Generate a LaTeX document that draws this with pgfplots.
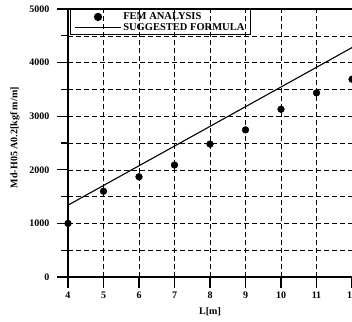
\documentclass[border=0pt]{standalone}
\usepackage{pgfplots}
\pgfplotsset{compat=1.18}
\usepackage{fontspec}
\setmainfont{Liberation Serif}
\pgfplotsset{
  dotlegend/.style={legend image code/.code={\draw[##1] plot coordinates {(0.8cm,0cm)};}},
  linelegend/.style={legend image code/.code={\draw[##1] (0cm,0cm) -- (1.6cm,0cm);}},
}
\begin{document}
\begin{tikzpicture}
\begin{axis}[
  scale only axis, width=284pt, height=268pt,
  xmin=4, xmax=12, ymin=0, ymax=5000,
  axis x line=bottom, axis y line=left,
  xtick={4,...,12}, ytick={0,1000,...,5000},
  minor ytick={500,1500,...,4500},
  grid=both,
  major grid style={black, dash pattern=on 5pt off 3pt, line width=0.6pt},
  minor grid style={black, dash pattern=on 5pt off 3pt, line width=0.6pt},
  axis line style={black, line width=1.8pt, -},
  tick style={black, line width=1.1pt},
  tick align=outside,
  major tick length=11pt, minor tick length=7pt,
  ticklabel style={font=\fontsize{10}{11}\selectfont\bfseries},
  yticklabel style={xshift=-4pt},
  /pgf/number format/assume math mode=true,
  /pgf/number format/set thousands separator={},
  xlabel={\bfseries L[m]}, ylabel={\bfseries Md-H05 A0.2[kgf m/m]},
  label style={font=\fontsize{10}{11}\selectfont},
  xlabel style={at={(axis description cs:0.5,-0.13)}, anchor=center},
  ylabel style={at={(axis description cs:-0.187,0.52)}, anchor=center},
  legend style={at={(0,1)}, anchor=north west, xshift=2pt, fill=none, draw=black, line width=1.4pt,
    font=\fontsize{10.5}{11.5}\selectfont\bfseries, inner xsep=4pt, inner ysep=1pt, row sep=-2pt,
    /tikz/every even column/.append style={column sep=6pt}},
  legend cell align=left,
  clip=false,
]
\addplot[only marks, mark=*, mark size=3.4pt, black, dotlegend] coordinates {
 (4,1000) (5,1600) (6,1870) (7,2090) (8,2480) (9,2745) (10,3130) (11,3435) (12,3690)};
\addlegendentry{FEM ANALYSIS}
\addplot[black, line width=1.1pt, mark=none, linelegend] coordinates {(4,1340) (12,4280)};
\addlegendentry{SUGGESTED FORMULA}
\draw[black, line width=1.8pt] (axis cs:4,5000) -- (axis cs:12,5000);
\coordinate (BL) at (axis cs:4,0);
\coordinate (TR) at (axis cs:12,5000);
\end{axis}
\pgfresetboundingbox
\path[use as bounding box] ([xshift=-68pt,yshift=-44pt]BL) rectangle ([yshift=9pt]TR);
\end{tikzpicture}
\end{document}
